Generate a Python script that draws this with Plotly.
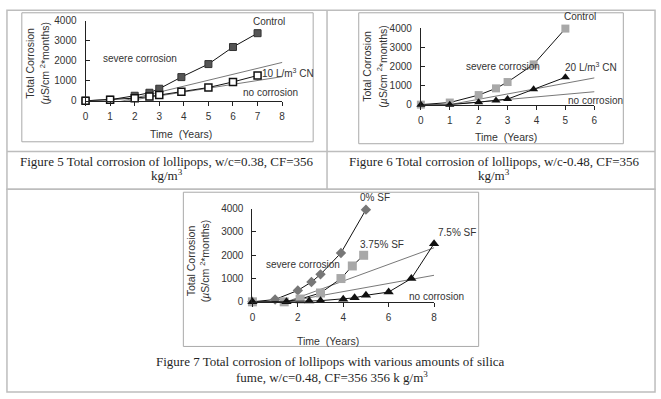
import plotly.graph_objects as go

W, H = 661, 399

# ---------------- data ----------------
# Figure 5
f5_ctrl_x = [0, 1, 2, 2.6, 3, 3.9, 5, 6, 7]
f5_ctrl_y = [0, 50, 250, 400, 600, 1180, 1830, 2680, 3370]
f5_cn_x = [0, 1, 2, 2.6, 3, 3.9, 5, 6, 7]
f5_cn_y = [0, 50, 130, 210, 290, 450, 660, 940, 1260]
f5_severe_x = [1.2, 8.3]
f5_severe_y = [-100, 2000]
f5_nocorr_x = [1.2, 8.3]
f5_nocorr_y = [-100, 1260]

# Figure 6
f6_ctrl_x = [0, 1, 2, 2.6, 3, 3.9, 5]
f6_ctrl_y = [0, 110, 500, 850, 1180, 2100, 3970]
f6_cn_x = [0, 1, 2, 2.6, 3, 3.9, 5]
f6_cn_y = [0, 0, 130, 220, 290, 800, 1430]
f6_severe_x = [1, 6.2]
f6_severe_y = [0, 1450]
f6_nocorr_x = [1, 6.2]
f6_nocorr_y = [0, 700]

# Figure 7
f7_sf0_x = [0, 1, 2, 2.6, 3, 3.9, 5]
f7_sf0_y = [0, 100, 490, 850, 1180, 2100, 3960]
f7_sf375_x = [0, 1.4, 2.1, 3, 3.9, 4.4, 4.9]
f7_sf375_y = [0, 0, 120, 380, 1000, 1540, 2000]
f7_sf75_x = [0, 1.5, 2.5, 3, 4, 4.5, 5, 6, 7, 8]
f7_sf75_y = [0, 0, 30, 50, 110, 170, 280, 420, 1000, 2500]
f7_severe_x = [1.5, 8.3]
f7_severe_y = [0, 2430]
f7_nocorr_x = [1.5, 8.0]
f7_nocorr_y = [0, 1140]

ytick_vals = [0, 1000, 2000, 3000, 4000]

captions = {
    "f5": ["Figure 5 Total corrosion of lollipops, w/c=0.38, CF=356", "kg/m<sup>3</sup>"],
    "f6": ["Figure 6 Total corrosion of lollipops, w/c-0.48, CF=356", "kg/m<sup>3</sup>"],
    "f7": ["Figure 7 Total corrosion of lollipops with various amounts of silica",
           "fume, w/c=0.48, CF=356 356 k g/m<sup>3</sup>"],
}

# --------------- helpers ---------------
def px(x):
    return x / W

def py(y):
    return 1 - y / H

SANS = "Liberation Sans, Arial, sans-serif"
SERIF = "Liberation Serif, Times New Roman, serif"
TXT = "#333333"

fig = go.Figure()

def line_trace(x, y, xa, ya, color="#555555", width=0.8):
    fig.add_trace(go.Scatter(x=x, y=y, mode="lines", xaxis=xa, yaxis=ya,
                             line=dict(color=color, width=width),
                             cliponaxis=False, showlegend=False, hoverinfo="skip"))

def series(x, y, xa, ya, symbol, size, fill, outline="#222222", lw=1):
    fig.add_trace(go.Scatter(x=x, y=y, mode="lines+markers", xaxis=xa, yaxis=ya,
                             line=dict(color="#111111", width=1),
                             marker=dict(symbol=symbol, size=size, color=fill,
                                         line=dict(color=outline, width=lw)),
                             cliponaxis=False, showlegend=False))

# Figure 5 traces
line_trace(f5_severe_x, f5_severe_y, "x", "y")
line_trace(f5_nocorr_x, f5_nocorr_y, "x", "y")
series(f5_ctrl_x, f5_ctrl_y, "x", "y", "square", 7, "#555555", "#333333", 1)
series(f5_cn_x, f5_cn_y, "x", "y", "square", 7, "white", "#111111", 1.5)

# Figure 6 traces
line_trace(f6_severe_x, f6_severe_y, "x2", "y2")
line_trace(f6_nocorr_x, f6_nocorr_y, "x2", "y2")
series(f6_ctrl_x, f6_ctrl_y, "x2", "y2", "square", 8, "#a8a8a8", "#a8a8a8", 0)
series(f6_cn_x, f6_cn_y, "x2", "y2", "triangle-up", 8, "#111111", "#111111", 0)

# Figure 7 traces
line_trace(f7_severe_x, f7_severe_y, "x3", "y3")
line_trace(f7_nocorr_x, f7_nocorr_y, "x3", "y3")
series(f7_sf0_x, f7_sf0_y, "x3", "y3", "diamond", 8, "#777777", "#777777", 0)
series(f7_sf375_x, f7_sf375_y, "x3", "y3", "square", 9, "#a8a8a8", "#a8a8a8", 0)
series(f7_sf75_x, f7_sf75_y, "x3", "y3", "triangle-up", 9, "#111111", "#111111", 0)

# --------------- axes ---------------
def xaxis_cfg(x0px, x1px, rng, dtick):
    return dict(domain=[px(x0px), px(x1px)], range=rng, dtick=dtick, tick0=0,
                showline=True, linecolor="#222222", linewidth=1,
                ticks="outside", ticklen=4, tickcolor="#222222",
                showgrid=False, zeroline=False,
                tickfont=dict(family=SANS, size=10, color=TXT),
                ticklabelstandoff=2, fixedrange=True)

def yaxis_cfg(y0px, y1px, xanchor):
    return dict(domain=[py(y0px), py(y1px)], range=[0, 4000], tickvals=ytick_vals,
                showline=True, linecolor="#222222", linewidth=1,
                ticks="inside", ticklen=4, tickcolor="#222222",
                showgrid=False, zeroline=False, anchor=xanchor,
                tickfont=dict(family=SANS, size=10, color=TXT),
                ticklabelstandoff=6, fixedrange=True)

x1 = xaxis_cfg(83.3, 281.7, [0, 8], 1); x1["anchor"] = "y"
y1 = yaxis_cfg(97.7, 15, "x")
x2 = xaxis_cfg(421.7, 596.7, [0, 6], 1); x2["anchor"] = "y2"
y2 = yaxis_cfg(101.7, 22.7, "x2")
x3 = xaxis_cfg(251.7, 435, [0, 8], 2); x3["anchor"] = "y3"
y3 = yaxis_cfg(305, 209, "x3")

fig.update_layout(
    width=W, height=H, autosize=False,
    margin=dict(l=0, r=0, t=0, b=0),
    paper_bgcolor="white", plot_bgcolor="rgba(0,0,0,0)",
    xaxis=x1, yaxis=y1, xaxis2=x2, yaxis2=y2, xaxis3=x3, yaxis3=y3,
    showlegend=False,
)

# --------------- table borders & chart frames ---------------
BORDER = "#bdbdbd"
FRAME = "#a9a9a9"
shapes = []
def pline(x0, y0, x1_, y1_, color, width):
    shapes.append(dict(type="line", xref="paper", yref="paper",
                       x0=px(x0), y0=py(y0), x1=px(x1_), y1=py(y1_),
                       line=dict(color=color, width=width)))
def prect(x0, y0, x1_, y1_, color, width):
    shapes.append(dict(type="rect", xref="paper", yref="paper",
                       x0=px(x0), y0=py(y0), x1=px(x1_), y1=py(y1_),
                       line=dict(color=color, width=width), layer="below"))

prect(4, 4.5, 658, 189, BORDER, 1.5)
prect(4, 189, 658, 398, BORDER, 1.5)
pline(327, 4.5, 327, 189, BORDER, 1.5)
pline(4, 150, 658, 150, BORDER, 1.5)
prect(19, 7, 313, 140, FRAME, 1)
prect(359, 7, 626, 142, FRAME, 1)
prect(182, 192, 480, 351, FRAME, 1)
fig.update_layout(shapes=shapes)

# --------------- annotations ---------------
ann = []
def paper_text(text, x, y, size=10.5, family=SANS, color=TXT, angle=0, anchor="center"):
    ann.append(dict(text=text, x=px(x), y=py(y), xref="paper", yref="paper",
                    showarrow=False, xanchor=anchor, yanchor="middle",
                    textangle=angle, font=dict(family=family, size=size, color=color)))

# Fig 5 labels
paper_text("Control", 268, 16, size=10)
paper_text("severe corrosion", 138, 54, size=10)
paper_text("10 L/m<sup>3</sup> CN", 259, 69, size=10, anchor="left")
paper_text("no corrosion", 270, 89, size=10)
# Fig 6 labels
paper_text("Control", 582, 11, size=10)
paper_text("severe corrosion", 505, 62, size=10)
paper_text("20 L/m<sup>3</sup> CN", 593, 63, size=10)
paper_text("no corrosion", 598, 97, size=10)
# Fig 7 labels
paper_text("0% SF", 375, 197, size=10)
paper_text("3.75% SF", 382, 246, size=10)
paper_text("7.5% SF", 458, 234, size=10)
paper_text("severe corrosion", 303, 266, size=10)
paper_text("no corrosion", 437, 300, size=10)

ytitle1 = "Total Corrosion"
ytitle2 = "(<i>µ</i>S/cm <sup>2</sup>*months)"
xtitle = "Time  (Years)"

paper_text(xtitle, 180, 132)
paper_text(ytitle1, 27, 58.7, angle=-90)
paper_text(ytitle2, 42, 58.7, angle=-90)

paper_text(xtitle, 508, 135)
paper_text(ytitle1, 367, 62, angle=-90)
paper_text(ytitle2, 382, 62, angle=-90)

paper_text(xtitle, 328, 345)
paper_text(ytitle1, 190, 263, angle=-90)
paper_text(ytitle2, 203, 263, angle=-90)

CAP = "#1f1f1f"
paper_text(captions["f5"][0], 166, 160, size=13, family=SERIF, color=CAP)
paper_text(captions["f5"][1], 166, 174, size=13, family=SERIF, color=CAP)
paper_text(captions["f6"][0], 495, 160, size=13, family=SERIF, color=CAP)
paper_text(captions["f6"][1], 495, 174, size=13, family=SERIF, color=CAP)
paper_text(captions["f7"][0], 331, 367, size=13, family=SERIF, color=CAP)
paper_text(captions["f7"][1], 332, 382, size=13, family=SERIF, color=CAP)

fig.update_layout(annotations=ann)

fig.write_html("out.html", config={"displayModeBar": False},
               post_script="document.body.style.margin='0';document.body.style.overflow='hidden';")
